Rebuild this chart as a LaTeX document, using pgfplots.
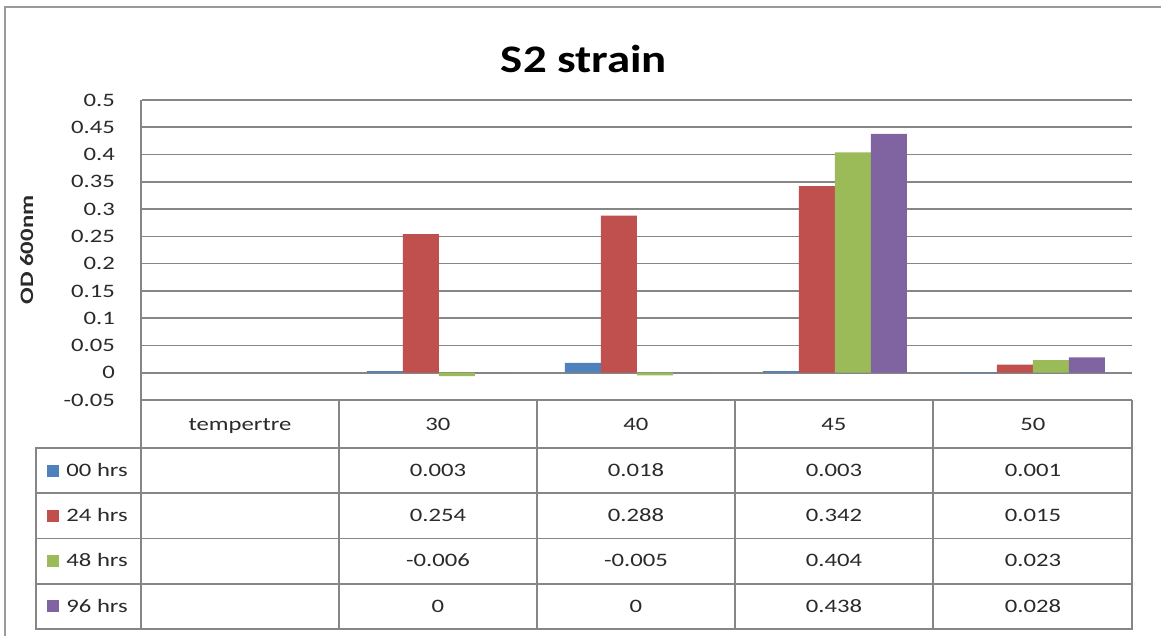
\documentclass[border=0pt]{standalone}
\usepackage{pgfplots}
\pgfplotsset{compat=1.18}
\usepackage{fontspec}
\setmainfont[FakeStretch=1.3]{Carlito}
\newfontfamily\titlefont[FakeStretch=1.2]{Carlito}

\definecolor{hrsA}{HTML}{4F81BD}
\definecolor{hrsB}{HTML}{C0504D}
\definecolor{hrsC}{HTML}{9BBB59}
\definecolor{hrsD}{HTML}{8064A2}
\definecolor{gridgray}{HTML}{868686}
\definecolor{framegray}{HTML}{9A9A9A}
\definecolor{txt}{HTML}{2A2A2A}

\newcommand\tabfont{\fontsize{9.5bp}{11bp}\selectfont}

\begin{document}
\begin{tikzpicture}
\useasboundingbox (0,0) rectangle (580.5bp,-318bp);

\begin{axis}[
  at={(71bp,-200bp)}, anchor=south west,
  scale only axis, width=495bp, height=150bp,
  xmin=-0.5, xmax=4.5, ymin=-0.05, ymax=0.5,
  axis line style={draw=none},
  xtick=\empty,
  ytick={-0.05,0,0.05,0.1,0.15,0.2,0.25,0.3,0.35,0.4,0.45,0.5},
  yticklabels={-0.05,0,0.05,0.1,0.15,0.2,0.25,0.3,0.35,0.4,0.45,0.5},
  yticklabel style={font=\tabfont, text=txt, xshift=-10bp},
  major tick length=0pt,
  ymajorgrids, major grid style={gridgray, line width=0.8bp},
  ybar=0pt, bar width=18bp,
]
% temperature categories: 0 = tempertre (empty), 1 = 30, 2 = 40, 3 = 45, 4 = 50
\addplot[fill=hrsA, draw=none] coordinates {(1,0.003) (2,0.018) (3,0.003) (4,0.001)};
\addplot[fill=hrsB, draw=none] coordinates {(1,0.254) (2,0.288) (3,0.342) (4,0.015)};
\addplot[fill=hrsC, draw=none] coordinates {(1,-0.006) (2,-0.005) (3,0.404) (4,0.023)};
\addplot[fill=hrsD, draw=none] coordinates {(1,0) (2,0) (3,0.438) (4,0.028)};
\end{axis}

\begin{scope}[x=0.5bp, y=-0.5bp]
  % outer chart frame
  \draw[framegray, line width=1bp] (5,7) rectangle (1180,660);
  % title and axis title
  \node[anchor=base, font=\titlefont\bfseries\fontsize{19.5bp}{22bp}\selectfont] at (584,73) {S2 strain};
  \node[rotate=90, anchor=base, text=txt, font=\bfseries\tabfont] at (33,250) {OD 600nm};

  % data table grid
  \begin{scope}[gridgray, line width=0.8bp]
    \draw (141,100) -- (141,629);
    \draw (141,400) -- (1132,400);
    \draw (141,448) -- (1132,448);
    \draw (36,448) rectangle (1132,629);
    \foreach \yy in {493.25,538.5,583.75} \draw (36,\yy) -- (1132,\yy);
    \foreach \xx in {339,537,735,933,1132} \draw (\xx,400) -- (\xx,629);
  \end{scope}

  \begin{scope}[every node/.style={anchor=base, text=txt, font=\tabfont, inner sep=0pt}]
    % header row
    \node at (240,431) {tempertre};
    \node at (438,431) {30};
    \node at (636,431) {40};
    \node at (834,431) {45};
    \node at (1033,431) {50};
    % 00 hrs
    \node at (438,477) {0.003};
    \node at (636,477) {0.018};
    \node at (834,477) {0.003};
    \node at (1033,477) {0.001};
    % 24 hrs
    \node at (438,522) {0.254};
    \node at (636,522) {0.288};
    \node at (834,522) {0.342};
    \node at (1033,522) {0.015};
    % 48 hrs
    \node at (438,567) {-0.006};
    \node at (636,567) {-0.005};
    \node at (834,567) {0.404};
    \node at (1033,567) {0.023};
    % 96 hrs
    \node at (438,612.5) {0};
    \node at (636,612.5) {0};
    \node at (834,612.5) {0.438};
    \node at (1033,612.5) {0.028};
    % series keys
    \node[anchor=base west] at (66,477) {00 hrs};
    \node[anchor=base west] at (66,522) {24 hrs};
    \node[anchor=base west] at (66,567) {48 hrs};
    \node[anchor=base west] at (66,612.5) {96 hrs};
  \end{scope}
  \fill[hrsA] (47,465) rectangle (59,477);
  \fill[hrsB] (47,510) rectangle (59,522);
  \fill[hrsC] (47,555) rectangle (59,567);
  \fill[hrsD] (47,600.5) rectangle (59,612.5);
\end{scope}
\end{tikzpicture}
\end{document}
